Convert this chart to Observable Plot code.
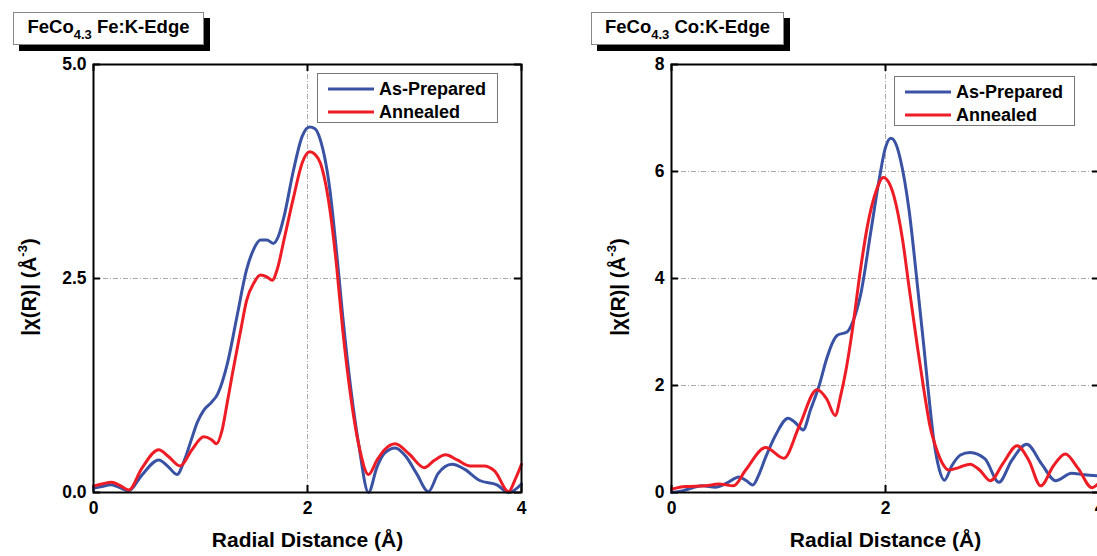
<!DOCTYPE html>
<html>
<head>
<meta charset="utf-8">
<script src="https://cdn.jsdelivr.net/npm/d3@7"></script>
<script src="https://cdn.jsdelivr.net/npm/@observablehq/plot@0.6"></script>
<style>
  html, body { margin: 0; padding: 0; background: #fff; overflow: hidden; }
  #wrap { position: relative; width: 1097px; height: 556px; overflow: hidden; font-family: "Liberation Sans", Arial, sans-serif; font-weight: bold; color: #000; }
  .panel { position: absolute; top: 0; }
  .panel svg { max-width: none !important; }
  .title { position: absolute; top: 12px; height: 33px; box-sizing: border-box; border: 1px solid #888; background: #fff; box-shadow: 6px 6px 0 #000; font-size: 18.5px; line-height: 28px; text-align: center; white-space: nowrap; }
  .title sub { font-size: 13px; vertical-align: -6px; line-height: 0; }
  .ylab { position: absolute; transform: translate(-50%, -50%) rotate(-90deg); white-space: nowrap; font-size: 20.5px; }
  .ylab sup { font-size: 13px; vertical-align: 9px; line-height: 0; }
  .legend { position: absolute; box-sizing: border-box; border: 1px solid #777; background: #fff; font-size: 18px; }
  .legend .row { position: absolute; left: 10px; height: 24px; display: flex; align-items: center; white-space: nowrap; }
  .legend svg { margin-right: 5px; }
</style>
</head>
<body>
<div id="wrap"></div>
<script>
// ---------- data ----------
const seriesNames = ["As-Prepared", "Annealed"];
const seriesColors = ["#3a52a3", "#ee1c25"];
const xTicks = [0, 2, 4];
const feYTicks = [0, 2.5, 5];
const coYTicks = [0, 2, 4, 6, 8];
const feGridY = [2.5];
const coGridY = [2, 4, 6];
const gridX = [2];

// Fe K-edge, As-Prepared
const feR_prep = [0, 0.08, 0.16, 0.24, 0.33, 0.45, 0.61, 0.70, 0.78, 0.85, 0.91, 0.97, 1.03, 1.10, 1.16, 1.25, 1.34, 1.43, 1.50, 1.56, 1.62, 1.68, 1.73, 1.78, 1.87, 1.95, 2.02, 2.07, 2.12, 2.21, 2.27, 2.33, 2.41, 2.48, 2.57, 2.65, 2.72, 2.82, 2.92, 3.02, 3.13, 3.22, 3.35, 3.47, 3.61, 3.77, 3.88, 4.0];
const feChi_prep = [0.05, 0.07, 0.09, 0.06, 0.02, 0.20, 0.38, 0.30, 0.21, 0.38, 0.60, 0.82, 0.96, 1.05, 1.15, 1.50, 2.05, 2.60, 2.85, 2.95, 2.95, 2.91, 3.00, 3.22, 3.77, 4.16, 4.27, 4.25, 4.12, 3.53, 2.83, 2.05, 1.16, 0.55, 0.0, 0.30, 0.46, 0.52, 0.42, 0.22, 0.01, 0.22, 0.33, 0.27, 0.14, 0.09, 0.0, 0.10];
// Fe K-edge, Annealed
const feR_ann = [0, 0.08, 0.17, 0.25, 0.33, 0.45, 0.61, 0.70, 0.81, 0.92, 1.03, 1.10, 1.15, 1.20, 1.25, 1.30, 1.375, 1.43, 1.50, 1.56, 1.62, 1.67, 1.72, 1.78, 1.87, 1.95, 2.02, 2.07, 2.12, 2.21, 2.27, 2.33, 2.40, 2.48, 2.57, 2.65, 2.72, 2.82, 2.95, 3.09, 3.19, 3.29, 3.40, 3.52, 3.65, 3.75, 3.88, 3.94, 4.0];
const feChi_ann = [0.075, 0.10, 0.12, 0.08, 0.03, 0.28, 0.50, 0.42, 0.31, 0.50, 0.65, 0.62, 0.57, 0.72, 1.05, 1.40, 1.89, 2.24, 2.45, 2.54, 2.52, 2.48, 2.62, 2.95, 3.45, 3.85, 3.98, 3.95, 3.85, 3.30, 2.67, 1.89, 1.16, 0.55, 0.21, 0.38, 0.50, 0.57, 0.45, 0.29, 0.38, 0.44, 0.38, 0.31, 0.31, 0.25, 0.01, 0.15, 0.33];

// Co K-edge, As-Prepared
const coR_prep = [0, 0.10, 0.20, 0.29, 0.41, 0.52, 0.63, 0.70, 0.76, 0.82, 0.88, 0.98, 1.09, 1.16, 1.23, 1.30, 1.38, 1.45, 1.50, 1.55, 1.64, 1.70, 1.77, 1.86, 1.94, 2.00, 2.05, 2.10, 2.14, 2.22, 2.30, 2.36, 2.40, 2.45, 2.50, 2.55, 2.62, 2.70, 2.79, 2.93, 3.06, 3.18, 3.32, 3.46, 3.59, 3.74, 3.86, 4.0];
const coChi_prep = [0.0, 0.03, 0.09, 0.125, 0.10, 0.18, 0.29, 0.22, 0.14, 0.35, 0.66, 1.10, 1.39, 1.30, 1.17, 1.55, 2.00, 2.50, 2.78, 2.94, 3.00, 3.22, 3.72, 4.84, 5.84, 6.45, 6.62, 6.50, 6.22, 5.28, 3.84, 2.70, 1.90, 1.00, 0.45, 0.23, 0.50, 0.70, 0.75, 0.63, 0.19, 0.60, 0.90, 0.53, 0.22, 0.36, 0.33, 0.31];
// Co K-edge, Annealed
const coR_ann = [0, 0.13, 0.32, 0.44, 0.58, 0.69, 0.88, 1.05, 1.19, 1.36, 1.45, 1.53, 1.58, 1.63, 1.69, 1.77, 1.83, 1.91, 1.98, 2.03, 2.08, 2.16, 2.22, 2.30, 2.36, 2.42, 2.47, 2.53, 2.59, 2.69, 2.79, 2.88, 2.98, 3.10, 3.23, 3.34, 3.45, 3.57, 3.68, 3.80, 3.93, 4.0];
const coChi_ann = [0.06, 0.11, 0.125, 0.16, 0.125, 0.41, 0.84, 0.64, 1.22, 1.92, 1.75, 1.44, 1.80, 2.28, 3.03, 4.22, 4.97, 5.62, 5.89, 5.80, 5.53, 4.72, 3.84, 2.70, 1.90, 1.20, 0.85, 0.55, 0.42, 0.47, 0.53, 0.42, 0.22, 0.55, 0.875, 0.60, 0.125, 0.50, 0.72, 0.45, 0.09, 0.19];

const titles = [["FeCo", "4.3", " Fe:K-Edge"], ["FeCo", "4.3", " Co:K-Edge"]];
const xLabel = "Radial Distance (Å)";

// ---------- build ----------
const toRows = (rs, vs, name) => rs.map((r, i) => ({r, v: vs[i], name}));
const panels = [
  {left: 0, width: 560, mL: 93, mR: 39, yDomain: [0, 5], yTicks: feYTicks, yFmt: d3.format(".1f"), gridY: feGridY,
   series: [toRows(feR_prep, feChi_prep, seriesNames[0]), toRows(feR_ann, feChi_ann, seriesNames[1])],
   title: titles[0], titleLeft: 13, titleWidth: 191, ylabX: 29, legend: {left: 317, top: 73}},
  {left: 560, width: 560, mL: 111, mR: 21, yDomain: [0, 8], yTicks: coYTicks, yFmt: d3.format("d"), gridY: coGridY,
   series: [toRows(coR_prep, coChi_prep, seriesNames[0]), toRows(coR_ann, coChi_ann, seriesNames[1])],
   title: titles[1], titleLeft: 591, titleWidth: 193, ylabX: 618, legend: {left: 894, top: 76}}
];

const H = 556, mT = 64, mB = 64;
const wrap = document.getElementById("wrap");

for (const p of panels) {
  const pw = p.width - p.mL - p.mR;
  const ph = H - mT - mB;
  const tickStyle = {stroke: "#000", strokeWidth: 2};
  const chart = Plot.plot({
    width: p.width, height: H,
    marginLeft: p.mL, marginRight: p.mR, marginTop: mT, marginBottom: mB,
    style: {fontFamily: "'Liberation Sans', Arial, sans-serif", fontSize: "17.5px", fontWeight: "bold", color: "#000", background: "transparent", overflow: "visible", maxWidth: "none"},
    x: {domain: [0, 4], ticks: xTicks, tickSize: 0, tickPadding: 9, tickFormat: d3.format("d"), label: xLabel, labelAnchor: "center", labelArrow: false, labelOffset: 54},
    y: {domain: p.yDomain, ticks: p.yTicks, tickSize: 0, tickPadding: 7, tickFormat: p.yFmt, label: null},
    marks: [
      Plot.ruleX(gridX, {stroke: "#aaa", strokeWidth: 1, strokeDasharray: "5,2,1,2"}),
      Plot.ruleY(p.gridY, {stroke: "#aaa", strokeWidth: 1, strokeDasharray: "5,2,1,2"}),
      Plot.tickX(xTicks, {x: d => d, insetTop: ph - 7, ...tickStyle}),
      Plot.tickX(xTicks, {x: d => d, insetBottom: ph - 7, ...tickStyle}),
      Plot.tickY(p.yTicks, {y: d => d, insetRight: pw - 7, ...tickStyle}),
      Plot.tickY(p.yTicks, {y: d => d, insetLeft: pw - 7, ...tickStyle}),
      ...p.series.map((s, i) => Plot.line(s, {x: "r", y: "v", stroke: seriesColors[i], strokeWidth: 3, curve: "monotone-x"})),
      Plot.frame({stroke: "#000", strokeWidth: 2})
    ]
  });
  chart.querySelectorAll("text").forEach(t => {
    if (t.textContent.startsWith("Radial")) t.setAttribute("font-size", "21px");
  });
  const holder = document.createElement("div");
  holder.className = "panel";
  holder.style.left = p.left + "px";
  holder.style.width = p.width + "px";
  holder.appendChild(chart);
  wrap.appendChild(holder);

  // title box
  const t = document.createElement("div");
  t.className = "title";
  t.style.left = p.titleLeft + "px";
  t.style.width = p.titleWidth + "px";
  t.innerHTML = `${p.title[0]}<sub>${p.title[1]}</sub>${p.title[2]}`;
  wrap.appendChild(t);

  // y label
  const yl = document.createElement("div");
  yl.className = "ylab";
  yl.style.left = p.ylabX + "px";
  yl.style.top = "287px";
  yl.innerHTML = "|χ(R)| (Å<sup>-3</sup>)";
  wrap.appendChild(yl);

  // legend
  const lg = document.createElement("div");
  lg.className = "legend";
  lg.style.left = p.legend.left + "px";
  lg.style.top = p.legend.top + "px";
  lg.style.width = "181px";
  lg.style.height = "50px";
  seriesNames.forEach((n, i) => {
    const row = document.createElement("div");
    row.className = "row";
    row.style.top = (3 + i * 23) + "px";
    row.innerHTML = `<svg width="46" height="6"><line x1="0" x2="46" y1="3" y2="3" stroke="${seriesColors[i]}" stroke-width="3"/></svg><span>${n}</span>`;
    lg.appendChild(row);
  });
  wrap.appendChild(lg);
}
</script>
</body>
</html>
